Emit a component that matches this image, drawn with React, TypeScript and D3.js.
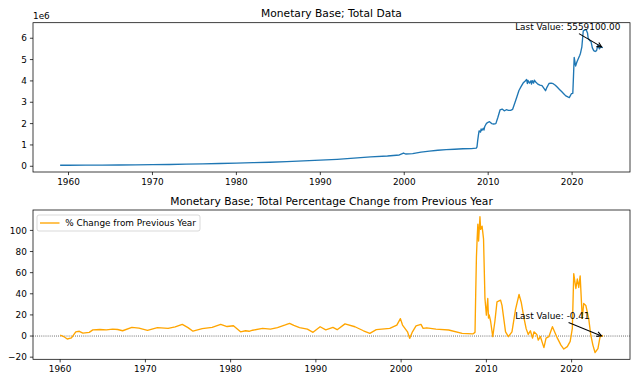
import React from "react";
import * as d3 from "d3";

// ---------- DATA ----------
const topTitle = "Monetary Base; Total Data";
const bottomTitle = "Monetary Base; Total Percentage Change from Previous Year";
const legendLabel = "% Change from Previous Year";

const topDates = [
  "1959-01", "1960-01", "1962-01", "1964-01", "1966-01", "1968-01", "1970-01", "1972-01",
  "1974-01", "1976-01", "1978-01", "1980-01", "1982-01", "1984-01", "1986-01", "1988-01",
  "1990-01", "1992-01", "1994-01", "1996-01", "1998-01", "1999-06", "1999-12", "2000-03",
  "2001-01", "2002-01", "2003-01", "2004-01", "2005-01", "2006-01", "2007-01", "2008-01",
  "2008-08", "2008-09", "2008-10", "2008-11", "2008-12", "2009-02", "2009-03", "2009-04",
  "2009-06", "2009-07", "2009-08", "2009-10", "2009-12", "2010-03", "2010-06", "2010-09",
  "2010-12", "2011-03", "2011-06", "2011-09", "2011-12", "2012-03", "2012-06", "2012-09",
  "2012-12", "2013-03", "2013-06", "2013-09", "2013-12", "2014-03", "2014-06", "2014-08",
  "2014-09", "2014-10", "2014-12", "2015-02", "2015-03", "2015-04", "2015-06", "2015-07",
  "2015-09", "2015-12", "2016-03", "2016-06", "2016-09", "2016-11", "2017-01", "2017-04",
  "2017-07", "2017-10", "2018-01", "2018-04", "2018-07", "2018-10", "2019-01", "2019-04",
  "2019-07", "2019-09", "2019-12", "2020-02", "2020-03", "2020-04", "2020-06", "2020-08",
  "2020-10", "2020-12", "2021-01", "2021-03", "2021-05", "2021-07", "2021-09", "2021-11",
  "2021-12", "2022-02", "2022-04", "2022-06", "2022-08", "2022-10", "2022-12", "2023-02",
  "2023-04", "2023-06", "2023-09",
];
const topValues = [
  50000, 50500, 52000, 56000, 62000, 68500, 76000, 85000,
  99000, 110000, 128000, 150000, 168000, 190000, 216000, 255000,
  285000, 325000, 380000, 440000, 480000, 530000, 620000, 575000,
  590000, 660000, 710000, 750000, 780000, 800000, 820000, 830000,
  850000, 910000, 1200000, 1450000, 1660000, 1600000, 1750000, 1680000,
  1780000, 1700000, 1850000, 1980000, 2050000, 2090000, 2000000, 1980000,
  2000000, 2300000, 2640000, 2680000, 2600000, 2650000, 2620000, 2620000,
  2670000, 2950000, 3250000, 3550000, 3730000, 3900000, 4000000, 4070000,
  3880000, 4020000, 3900000, 4000000, 3850000, 4010000, 3900000, 4030000,
  3950000, 3850000, 3800000, 3780000, 3640000, 3540000, 3700000, 3880000,
  3900000, 3870000, 3800000, 3700000, 3600000, 3500000, 3400000, 3300000,
  3250000, 3220000, 3400000, 3420000, 4200000, 5100000, 4700000, 4900000,
  5050000, 5200000, 5300000, 5600000, 6350000, 6380000, 6410000, 6250000,
  6000000, 5900000, 5850000, 5550000, 5420000, 5380000, 5420000, 5700000,
  5500000, 5600000, 5559100,
];

const bottomDates = [
  "1960-01", "1960-06", "1960-11", "1961-05", "1961-11", "1962-04", "1962-09", "1963-06",
  "1963-11", "1964-09", "1965-06", "1966-03", "1966-10", "1967-05", "1968-06", "1969-04",
  "1970-04", "1971-06", "1972-09", "1973-07", "1974-05", "1975-01", "1975-08", "1976-09",
  "1977-11", "1978-11", "1979-08", "1980-05", "1981-03", "1981-10", "1982-03", "1982-08",
  "1983-10", "1984-09", "1985-07", "1986-06", "1986-12", "1987-06", "1988-02", "1989-01",
  "1989-09", "1990-07", "1991-03", "1992-01", "1992-07", "1993-06", "1994-08", "1995-08",
  "1996-05", "1997-02", "1998-09", "1999-07", "1999-12", "2000-03", "2000-10", "2001-01",
  "2001-05", "2001-10", "2002-05", "2002-08", "2003-01", "2004-02", "2005-08", "2007-03",
  "2008-06", "2008-09", "2008-10", "2008-11", "2008-12", "2009-01", "2009-02", "2009-04",
  "2009-05", "2009-07", "2009-09", "2009-11", "2010-01", "2010-03", "2010-04", "2010-05",
  "2010-07", "2010-10", "2011-01", "2011-04", "2011-09", "2011-11", "2012-04", "2012-08",
  "2013-01", "2013-06", "2013-11", "2014-02", "2014-06", "2014-09", "2014-12", "2015-03",
  "2015-06", "2015-08", "2015-12", "2016-02", "2016-05", "2016-10", "2017-01", "2017-05",
  "2017-10", "2018-01", "2018-05", "2018-10", "2019-02", "2019-07", "2019-11", "2020-02",
  "2020-04", "2020-07", "2020-09", "2020-11", "2021-01", "2021-04", "2021-06", "2021-09",
  "2022-01", "2022-04", "2022-07", "2022-10", "2023-02", "2023-05", "2023-08", "2023-09",
];
const bottomValues = [
  0.8, -0.5, -2.8, -1.8, 4.0, 4.5, 2.8, 3.5,
  5.8, 6.2, 5.8, 6.5, 6.2, 5.0, 8.2, 7.5,
  5.4, 7.9, 7.2, 8.6, 11.0, 8.0, 4.6, 7.0,
  8.2, 11.0, 9.0, 9.7, 4.0, 5.0, 4.5, 5.5,
  7.3, 6.6, 8.0, 10.5, 12.0, 10.0, 8.0, 6.5,
  3.5, 8.8, 5.8, 8.2, 6.0, 11.5, 8.8, 5.0,
  2.5, 6.0, 7.3, 10.4, 16.5, 10.4, 4.0, -2.2,
  4.0, 9.7, 11.0, 7.3, 7.8, 6.6, 5.7, 2.5,
  2.0, 3.5, 40.0, 75.0, 92.0, 106.0, 90.0, 112.9,
  101.0, 104.0, 92.0, 35.5, 19.8, 35.5, 17.0, 20.0,
  14.0, -0.6, 14.0, 32.4, 34.0, 29.0, 4.0, -0.6,
  4.0, 25.0, 39.3, 32.0, 17.0, 7.0, 1.5, 5.0,
  -2.0, 4.0, 1.5, -3.8, -0.5, -11.0, -2.0, -0.6,
  8.8, 4.0, -2.0, -8.6, -12.3, -10.0, -5.0, 7.2,
  59.0, 45.0, 54.0, 46.0, 57.0, 16.7, 30.8, 29.0,
  16.7, 1.0, -8.6, -15.6, -12.0, -1.0, 0.5, -0.41,
];

const xTickYears = [1960, 1970, 1980, 1990, 2000, 2010, 2020];
const topYTicks = [0, 1, 2, 3, 4, 5, 6];
const bottomYTicks = [-20, 0, 20, 40, 60, 80, 100];

// ---------- LAYOUT ----------
const W = 640;
const H = 384;
const LEFT = 33;
const RIGHT = 630;
const TOP1 = 22.7;
const BOT1 = 172;
const TOP2 = 210;
const BOT2 = 359.3;
const FONT = "DejaVu Sans, Liberation Sans, sans-serif";
const TICK_FS = 8.9;
const TITLE_FS = 10.7;
const TOP_COLOR = "#1f77b4";
const BOTTOM_COLOR = "#ffa500";

const parse = d3.timeParse("%Y-%m");

function padded(ext: [number, number]): [number, number] {
  const span = ext[1] - ext[0];
  return [ext[0] - span * 0.05, ext[1] + span * 0.05];
}

function measure(text: string, size: number): number {
  try {
    const ctx = document.createElement("canvas").getContext("2d");
    if (ctx) {
      ctx.font = `${size}px "DejaVu Sans"`;
      return ctx.measureText(text).width;
    }
  } catch (e) {}
  return text.length * size * 0.58;
}

type Pt = { d: Date; v: number };

function Annotation({ x, y, label }: { x: number; y: number; label: string }) {
  const textX = x - 87.7;
  const baseline = y - 17.4;
  const cy = baseline - 3.2;
  const w = measure(label, TICK_FS);
  const cx = textX + w / 2;
  const sy = cy + 6.6;
  const t = (sy - cy) / (y - cy);
  const sx = cx + t * (x - cx);
  const len = Math.hypot(x - sx, y - sy);
  const ux = (x - sx) / len;
  const uy = (y - sy) / len;
  const ex = x - ux * 1.5;
  const ey = y - uy * 1.5;
  const hl = 4.6;
  const hw = 2.4;
  const bx = ex - ux * hl;
  const by = ey - uy * hl;
  const px = -uy;
  const py = ux;
  return (
    <g>
      <text x={textX} y={baseline} fontSize={TICK_FS} fontFamily={FONT} fill="#000">
        {label}
      </text>
      <line x1={sx} y1={sy} x2={ex} y2={ey} stroke="#000" strokeWidth={1.1} />
      <polyline
        points={`${bx + px * hw},${by + py * hw} ${ex},${ey} ${bx - px * hw},${by - py * hw}`}
        fill="none"
        stroke="#000"
        strokeWidth={1.1}
      />
    </g>
  );
}

function Frame({ top, bottom }: { top: number; bottom: number }) {
  return (
    <rect
      x={LEFT}
      y={top}
      width={RIGHT - LEFT}
      height={bottom - top}
      fill="none"
      stroke="#000"
      strokeWidth={0.75}
    />
  );
}

function XAxis({ scale, bottom }: { scale: d3.ScaleTime<number, number>; bottom: number }) {
  return (
    <g>
      {xTickYears.map((yr) => {
        const x = scale(new Date(yr, 0, 1));
        return (
          <g key={yr}>
            <line x1={x} x2={x} y1={bottom} y2={bottom + 3.1} stroke="#000" strokeWidth={0.75} />
            <text
              x={x}
              y={bottom + 13}
              fontSize={TICK_FS}
              fontFamily={FONT}
              textAnchor="middle"
              fill="#000"
            >
              {d3.timeFormat("%Y")(new Date(yr, 0, 1))}
            </text>
          </g>
        );
      })}
    </g>
  );
}

function YAxis({
  scale,
  ticks,
  fmt,
}: {
  scale: d3.ScaleLinear<number, number>;
  ticks: number[];
  fmt: (v: number) => string;
}) {
  return (
    <g>
      {ticks.map((t) => {
        const y = scale(t);
        return (
          <g key={t}>
            <line x1={LEFT - 3.1} x2={LEFT} y1={y} y2={y} stroke="#000" strokeWidth={0.75} />
            <text
              x={LEFT - 6.2}
              y={y + 3.2}
              fontSize={TICK_FS}
              fontFamily={FONT}
              textAnchor="end"
              fill="#000"
            >
              {fmt(t)}
            </text>
          </g>
        );
      })}
    </g>
  );
}

export default function App() {
  const topData: Pt[] = topDates.map((s, i) => ({ d: parse(s) as Date, v: topValues[i] }));
  const botData: Pt[] = bottomDates.map((s, i) => ({ d: parse(s) as Date, v: bottomValues[i] }));

  const tExt = d3.extent(topData, (p) => +p.d) as [number, number];
  const x1 = d3.scaleTime().domain(padded(tExt).map((v) => new Date(v))).range([LEFT, RIGHT]);
  const y1 = d3
    .scaleLinear()
    .domain(padded(d3.extent(topData, (p) => p.v) as [number, number]))
    .range([BOT1, TOP1]);

  const bExt = d3.extent(botData, (p) => +p.d) as [number, number];
  const x2 = d3.scaleTime().domain(padded(bExt).map((v) => new Date(v))).range([LEFT, RIGHT]);
  const y2 = d3
    .scaleLinear()
    .domain(padded(d3.extent(botData, (p) => p.v) as [number, number]))
    .range([BOT2, TOP2]);

  const line1 = d3
    .line<Pt>()
    .x((p) => x1(p.d))
    .y((p) => y1(p.v));
  const line2 = d3
    .line<Pt>()
    .x((p) => x2(p.d))
    .y((p) => y2(p.v));

  const lastTop = topData[topData.length - 1];
  const lastBot = botData[botData.length - 1];

  const fmtMinus = (v: number) => (v < 0 ? "\u2212" + Math.abs(v) : String(v));

  return (
    <svg
      width={W}
      height={H}
      viewBox={`0 0 ${W} ${H}`}
      style={{ position: "absolute", left: 0, top: 0, background: "#fff" }}
    >
      <rect x={0} y={0} width={W} height={H} fill="#fff" />
      <defs>
        <clipPath id="c1">
          <rect x={LEFT} y={TOP1} width={RIGHT - LEFT} height={BOT1 - TOP1} />
        </clipPath>
        <clipPath id="c2">
          <rect x={LEFT} y={TOP2} width={RIGHT - LEFT} height={BOT2 - TOP2} />
        </clipPath>
      </defs>

      {/* ---- top panel ---- */}
      <text
        x={(LEFT + RIGHT) / 2}
        y={TOP1 - 5.5}
        fontSize={TITLE_FS}
        fontFamily={FONT}
        textAnchor="middle"
        fill="#000"
      >
        {topTitle}
      </text>
      <path
        d={line1(topData) || ""}
        fill="none"
        stroke={TOP_COLOR}
        strokeWidth={1.35}
        strokeLinejoin="round"
        clipPath="url(#c1)"
      />
      <Frame top={TOP1} bottom={BOT1} />
      <XAxis scale={x1} bottom={BOT1} />
      <YAxis scale={y1} ticks={topYTicks.map((t) => t * 1e6)} fmt={(v) => String(v / 1e6)} />
      <text x={LEFT} y={TOP1 - 3.5} fontSize={TICK_FS} fontFamily={FONT} fill="#000">
        1e6
      </text>
      <Annotation
        x={x1(lastTop.d)}
        y={y1(lastTop.v)}
        label={`Last Value: ${lastTop.v.toFixed(2)}`}
      />

      {/* ---- bottom panel ---- */}
      <text
        x={(LEFT + RIGHT) / 2}
        y={TOP2 - 5.5}
        fontSize={TITLE_FS}
        fontFamily={FONT}
        textAnchor="middle"
        fill="#000"
      >
        {bottomTitle}
      </text>
      <line
        x1={LEFT}
        x2={RIGHT}
        y1={y2(0)}
        y2={y2(0)}
        stroke="#000"
        strokeWidth={0.7}
        strokeDasharray="0.8,1.3"
      />
      <path
        d={line2(botData) || ""}
        fill="none"
        stroke={BOTTOM_COLOR}
        strokeWidth={1.35}
        strokeLinejoin="round"
        clipPath="url(#c2)"
      />
      <Frame top={TOP2} bottom={BOT2} />
      <XAxis scale={x2} bottom={BOT2} />
      <YAxis scale={y2} ticks={bottomYTicks} fmt={fmtMinus} />
      <Annotation
        x={x2(lastBot.d)}
        y={y2(lastBot.v)}
        label={`Last Value: ${lastBot.v.toFixed(2)}`}
      />

      {/* legend */}
      <g>
        <rect
          x={37}
          y={215}
          width={163}
          height={16}
          rx={2}
          fill="#fff"
          fillOpacity={0.8}
          stroke="#ccc"
          strokeWidth={0.75}
        />
        <line x1={40} x2={59.5} y1={223} y2={223} stroke={BOTTOM_COLOR} strokeWidth={1.35} />
        <text x={65.3} y={226.2} fontSize={TICK_FS} fontFamily={FONT} fill="#000">
          {legendLabel}
        </text>
      </g>
    </svg>
  );
}
